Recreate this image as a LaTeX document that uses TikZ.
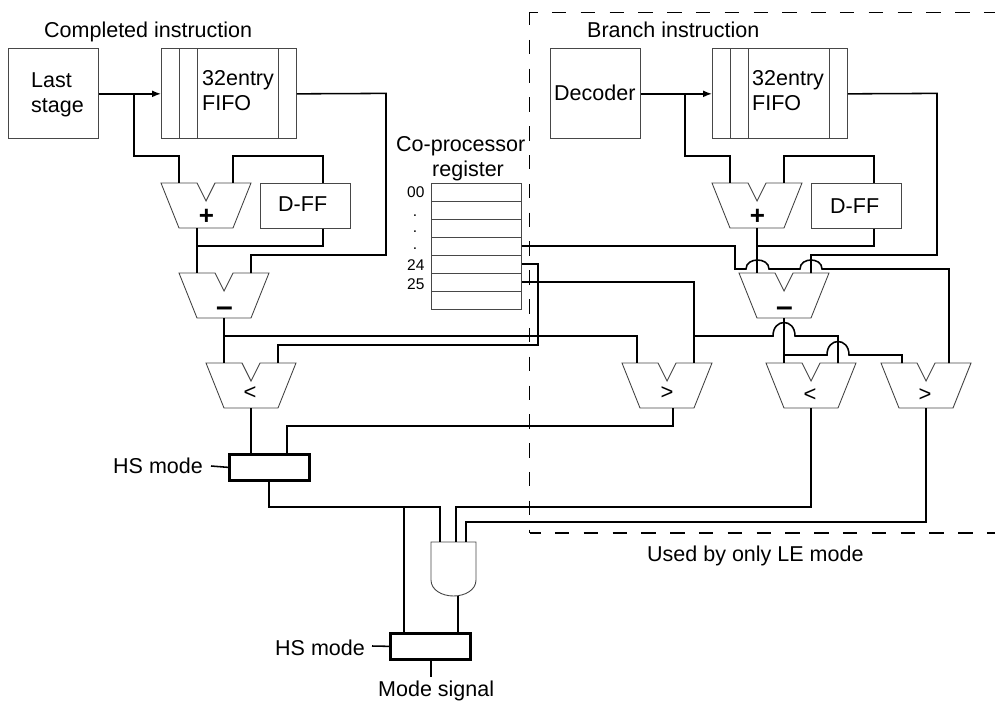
\documentclass[tikz,border=0pt]{standalone}
\usepackage{fontspec}
\setmainfont{Liberation Sans}
\usetikzlibrary{arrows.meta,calc}
\tikzset{
  box/.style={draw=black!72,line width=0.9pt,inner sep=0pt,anchor=north west,minimum width=90pt,minimum height=90pt},
  fifobox/.style={box,minimum width=135pt},
  dffbox/.style={box,minimum height=45pt},
  regbox/.style={box,minimum height=126pt},
  hsbox/.style={draw=black,line width=2.7pt,inner sep=0pt,anchor=north west,minimum width=80pt,minimum height=26pt},
  thinline/.style={draw=black!72,line width=0.9pt},
  wire/.style={draw=black,line width=1.55pt},
  flowarrow/.style={wire,-{Latex[length=9pt,width=7pt]}},
  txt/.style={inner sep=0pt,anchor=base west,font=\fontsize{21.5}{24}\selectfont},
  small/.style={inner sep=0pt,anchor=base west,font=\fontsize{15.5}{18}\selectfont},
  sym/.style={inner sep=0pt,anchor=center,font=\fontsize{22}{24}\selectfont},
  bigsym/.style={inner sep=0pt,anchor=center,font=\fontsize{30}{32}\bfseries\selectfont},
  plussym/.style={bigsym,font=\fontsize{26}{28}\bfseries\selectfont},
  zone/.style={draw=black,line width=1.7pt,dash pattern=on 14.4pt off 14.4pt},
}
% ALU: name, left x, top y, left-input offset, right-input offset, output offset
\newcommand\alu[6]{%
  \path[thinline,fill=white] (#2,#3) -- ++(36,0) -- ++(9,18) -- ++(9,-18) -- ++(36,0)
     -- ++(-18,45) -- ++(-54,0) -- cycle;
  \coordinate (#1-a) at ($(#2,#3)+(#4,0)$);
  \coordinate (#1-b) at ($(#2,#3)+(#5,0)$);
  \coordinate (#1-o) at ($(#2,#3)+(#6,45)$);
}
\newcommand\fifodiv[1]{%
  \draw[thinline] ($(#1.north west)+(18,0)$) -- ($(#1.south west)+(18,0)$);
  \draw[thinline] ($(#1.north west)+(36,0)$) -- ($(#1.south west)+(36,0)$);
  \draw[thinline] ($(#1.north east)+(-18,0)$) -- ($(#1.south east)+(-18,0)$);
}
\def\hop#1#2{.. controls +(0,-#2) and +(0,-#2) .. ++(#1,0)}
\begin{document}
\begin{tikzpicture}[x=1pt,y=-1pt]
\useasboundingbox (0,0) rectangle (995,703);
% dashed zone
\coordinate (zt) at (995,12.5);
\coordinate (ztl) at (529.5,12.5);
\coordinate (zbl) at (529.5,533);
\coordinate (zb) at (995,533);
\draw[zone,dash phase=6.4pt] (ztl) -- (zt);
\draw[zone,dash phase=1.4pt] (ztl) -- (zbl);
\draw[zone,dash phase=3.4pt] (zbl) -- (zb);

% boxes
\node[box] (last) at (8,48.4) {};
\node[fifobox] (fifoL) at (161,48.4) {};
\fifodiv{fifoL}
\node[dffbox] (dffL) at (260,183) {};
\node[box] (dec) at (550,48.4) {};
\node[fifobox] (fifoR) at (712,48.4) {};
\fifodiv{fifoR}
\node[dffbox] (dffR) at (811,183) {};
\node[regbox] (reg) at (431,183) {};
\foreach \y in {201,219,237,255,273,291} \draw[thinline] (431,\y) -- (521,\y);
\alu{addL}{161}{183}{18}{72}{36}
\alu{addR}{712}{183}{18}{72}{45}
\alu{subL}{179}{273}{18}{72}{45}
\alu{subR}{739}{273}{18}{72}{45}
\alu{ltL}{206}{363}{18}{72}{45}
\alu{gtL}{622}{363}{15}{72}{51}
\alu{ltR}{766}{363}{18}{72}{45}
\alu{gtR}{881}{363}{21}{68}{45}
\node[hsbox] (hsA) at (228,453) {};
\node[hsbox] (hsB) at (389,632) {};
\path[thinline] (431,542) -- (476,542) -- (476,580)
  .. controls (476,590) and (465,596) .. (453.5,596)
  .. controls (442,596) and (431,590) .. (431,580) -- cycle;
\coordinate (andA) at (440,542);
\coordinate (andB) at (456,542);
\coordinate (andC) at (466,542);
\coordinate (andO) at (458,596);

% wires: left half
\draw[flowarrow] (last.east) -- (fifoL.west);
\coordinate (j1) at (134,93.4);
\draw[wire] (j1) |- (179,156) -- (addL-a);
\draw[wire] (addL-b) |- (323,156) -- (dffL.north -| 323,0);
\draw[wire] (dffL.south -| 323,0) -- (323,246) -- (197,246);
\draw[wire] (addL-o) -- (subL-a);
\draw[wire] (fifoL.east) -- (386,93.4) -- (386,255) -- (251,255) -- (subL-b);
\draw[wire] (subL-o) -- (ltL-a);
\coordinate (j2) at (224,336);
\draw[wire] (j2) -- (637,336) -- (gtL-a);
\draw[wire] (ltL-b) -- (278,345) -- (538,345) -- (538,264) -- (reg.east |- 0,264);
\draw[wire] (ltL-o) -- (hsA.north -| 251,0);
\draw[wire] (gtL-o) -- (673,426) -- (287,426) -- (hsA.north -| 287,0);
\draw[wire] (hsA.south -| 269,0) -- (269,507) -- (440,507) -- (andA);
\coordinate (j3) at (404,507);
\draw[wire] (j3) -- (hsB.north -| 404,0);
\draw[wire] (andO) -- (hsB.north -| 458,0);
\draw[wire] (ltR-o) -- (811,507) -- (456,507) -- (andB);
\draw[wire] (gtR-o) -- (926,522) -- (466,522) -- (andC);
\draw[wire] (hsB.south -| 431,0) -- (431,677);
\coordinate (hsAin) at (211,466);
\coordinate (hsBin) at (372,646);
\draw[wire] (hsAin) -- (hsA.west);
\draw[wire] (hsBin) -- (hsB.west);

% wires: right half
\draw[flowarrow] (dec.east) -- (fifoR.west);
\coordinate (j4) at (685,93.4);
\draw[wire] (j4) |- (730,156) -- (addR-a);
\draw[wire] (addR-b) |- (874,156) -- (dffR.north -| 874,0);
\draw[wire] (dffR.south -| 874,0) -- (874,246) -- (757,246);
\draw[wire] (addR-o) -- (subR-a);
\draw[wire] (fifoR.east) -- (937,93.4) -- (937,255) -- (811,255) -- (subR-b);
\draw[wire] (reg.east |- 0,246) -- (735,246) -- (735,269) -- (746,269) \hop{23}{12} -- (800,269) \hop{22}{12} -- (949,269) -- (gtR-b);
\draw[wire] (522,282) -- (694,282) -- (gtL-b);
\coordinate (j5) at (694,336);
\draw[wire] (j5) -- (773,336) \hop{22}{18} -- (838,336) -- (ltR-b);
\draw[wire] (subR-o) -- (ltR-a);
\coordinate (j6) at (784,355);
\draw[wire] (j6) -- (827,355) \hop{22}{18} -- (902,355) -- (gtR-a);

% text
\node[txt] (t1) at (44,38) {Completed instruction};
\node[txt] (t2) at (587,38) {Branch instruction};
\node[txt] (t3) at (31,88) {Last};
\node[txt] (t4) at (31,113) {stage};
\node[txt] (t5) at (202,86) {32entry};
\node[txt] (t6) at (202,111) {FIFO};
\node[txt] (t7) at (554,101) {Decoder};
\node[txt] (t8) at (752,86) {32entry};
\node[txt] (t9) at (752,111) {FIFO};
\node[txt] (t10) at (278,212) {D-FF};
\node[txt] (t11) at (830,214) {D-FF};
\node[txt] (t12) at (396,152) {Co-processor};
\node[txt] (t13) at (432,177) {register};
\node[small] (n0) at (407,198) {00};
\node[small,anchor=base] (n1) at (415,217) {.};
\node[small,anchor=base] (n2) at (415,233) {.};
\node[small,anchor=base] (n3) at (415,250) {.};
\node[small] (n4) at (407,270) {24};
\node[small] (n5) at (407,289) {25};
\node[txt] (t14) at (113,473) {HS mode};
\node[txt] (t15) at (275,655) {HS mode};
\node[txt] (t16) at (378,696) {Mode signal};
\node[txt] (t17) at (647,561.5) {Used by only LE mode};
\node[plussym] (p1) at (206.5,217) {+};
\node[plussym] (p2) at (757.5,217) {+};
\node[bigsym] (m1) at (224.5,312) {–};
\node[bigsym] (m2) at (784.5,312) {–};
\node[sym] (c1) at (250,393) {<};
\node[sym] (c2) at (667,393) {>};
\node[sym] (c3) at (810,395) {<};
\node[sym] (c4) at (925,395) {>};
\end{tikzpicture}
\end{document}
